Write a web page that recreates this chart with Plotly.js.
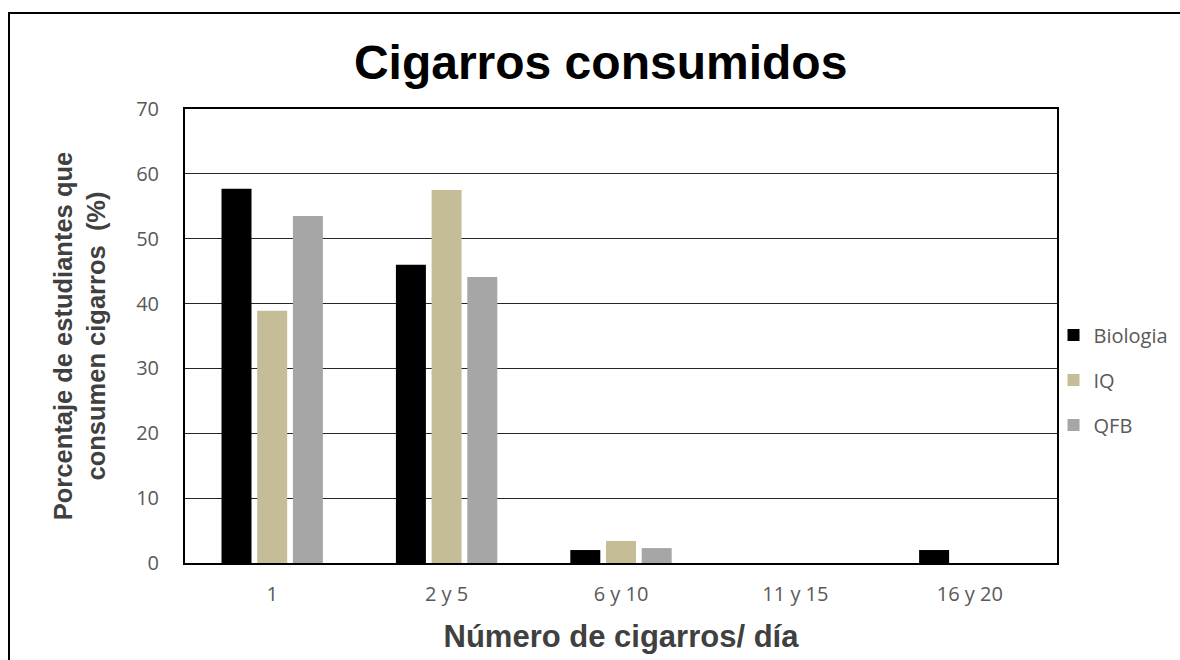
<!DOCTYPE html>
<html>
<head>
<meta charset="utf-8">
<script src="https://cdn.plot.ly/plotly-3.0.1.min.js"></script>
<style>
  html, body { margin: 0; padding: 0; background: #fff; overflow: hidden; }
  #wrap { position: relative; width: 1180px; height: 660px; }
  #chart { position: absolute; left: 0; top: 0; width: 1180px; height: 660px; }
  #frame { position: absolute; left: 8px; top: 12px; width: 1200px; height: 700px;
           border-top: 2px solid #000; border-left: 2px solid #000; pointer-events: none; }
</style>
</head>
<body>
<div id="wrap">
  <div id="chart"></div>
  <div id="frame"></div>
</div>
<script>
// Cigarettes smoked per day, share of smoking students by programme (%)
const categories = ['1', '2 y 5', '6 y 10', '11 y 15', '16 y 20'];
const biologia = [57.7, 46.0, 2.0, 0, 2.0];
const iq       = [38.9, 57.5, 3.4, 0, 0];
const qfb      = [53.5, 44.1, 2.3, 0, 0];
const yTicks   = [0, 10, 20, 30, 40, 50, 60, 70];

const seriesNames  = ['Biologia', 'IQ', 'QFB'];
const seriesValues = [biologia, iq, qfb];
const seriesColors = ['#000000', '#C4BD97', '#A6A6A6'];

const traces = seriesNames.map((name, i) => ({
  type: 'bar',
  name: name,
  x: categories,
  y: seriesValues[i],
  legendgroup: name,
  marker: { color: seriesColors[i], line: { width: 0 } },
  hoverinfo: 'x+y+name'
}));

const tickFont = { family: '"Open Sans", Calibri, sans-serif', size: 20, color: '#595959' };

const layout = {
  width: 1180,
  height: 660,
  margin: { l: 185, r: 123, t: 109, b: 97, autoexpand: false },
  paper_bgcolor: '#ffffff',
  plot_bgcolor: '#ffffff',
  barmode: 'group',
  bargap: 0.386,
  bargroupgap: 0.16,
  showlegend: true,
  title: {
    text: '<b>Cigarros consumidos</b>',
    font: { family: '"Liberation Sans", Arial, sans-serif', size: 48, color: '#000000' },
    x: 0.509, xref: 'container', xanchor: 'center',
    y: 0.906, yref: 'container', yanchor: 'middle'
  },
  xaxis: {
    type: 'category',
    tickfont: tickFont,
    ticks: '',
    ticklabelstandoff: 12,
    showline: true, linecolor: '#000000', linewidth: 2, mirror: true,
    showgrid: false, zeroline: false,
    title: {
      text: '<b>Número de cigarros/ día</b>',
      font: { family: '"Liberation Sans", Arial, sans-serif', size: 31, color: '#404040' },
      standoff: 19
    }
  },
  yaxis: {
    range: [0, 70],
    tickvals: yTicks,
    ticktext: yTicks.map(String),
    tickfont: tickFont,
    ticks: '',
    ticklabelstandoff: 20,
    showline: true, linecolor: '#000000', linewidth: 2, mirror: true,
    showgrid: true, gridcolor: '#262626', gridwidth: 1.2,
    zeroline: false,
    title: {
      text: '<b>Porcentaje de estudiantes que<br>consumen cigarros  (%)</b>',
      font: { family: '"Liberation Sans", Arial, sans-serif', size: 25.5, color: '#404040' },
      standoff: 23
    }
  },
  legend: {
    x: 0.996, xref: 'paper', xanchor: 'left',
    y: 0.403, yref: 'paper', yanchor: 'middle',
    font: tickFont,
    tracegroupgap: 16,
    itemwidth: 30,
    bgcolor: 'rgba(0,0,0,0)'
  }
};

Plotly.newPlot('chart', traces, layout, { displayModeBar: false, staticPlot: true });
</script>
</body>
</html>
